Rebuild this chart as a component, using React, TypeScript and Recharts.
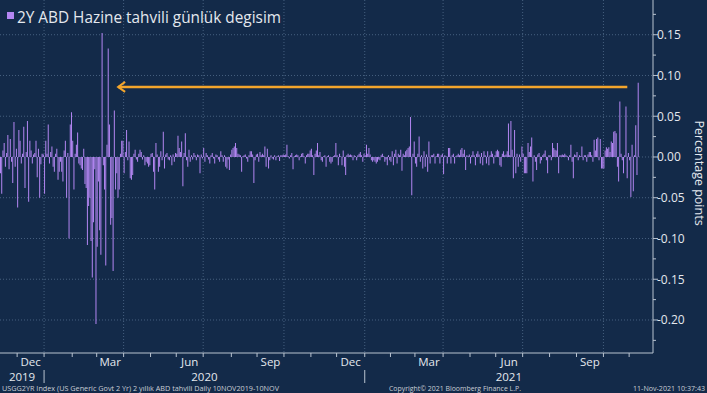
import React from 'react';
import { ComposedChart, Bar, XAxis, YAxis, CartesianGrid, ReferenceLine, ReferenceDot } from 'recharts';

// Daily change of US 2Y yield, percentage points (one value per weekday)
const nov2019 = [-0.02, -0.045, 0.008, 0.017, -0.012, 0.005, 0.027, -0.015, 0.022, -0.006, -0.032, 0.043, -0.012, 0.01];
const dec2019 = [-0.062, 0.033, 0.02, -0.008, 0.004, 0.037, -0.038, 0.006, 0.044, -0.055, 0.02, 0.008, -0.008, 0.003, 0.005, 0.02, -0.025, 0.01, -0.05, -0.009, 0.004, 0.003];
const jan2020 = [-0.045, 0.02, 0.004, 0.04, -0.008, 0.006, 0.013, -0.012, -0.018, 0.004, 0.01, -0.028, -0.018, -0.006, -0.018, -0.03, 0.008, 0.02, -0.05, 0.005, -0.1, 0.04, 0.055];
const feb2020 = [0.02, -0.04, 0.004, 0.015, 0.03, -0.008, -0.01, -0.014, -0.016, 0.01, -0.033, -0.038, -0.108, -0.06, -0.05, -0.103, -0.148, -0.08, -0.015, -0.205];
const mar2020 = [-0.11, -0.03, -0.09, -0.12, 0.152, -0.01, -0.04, -0.133, 0.015, 0.133, 0.04, -0.083, -0.075, -0.14, 0.057, -0.04, -0.02, -0.05, -0.04, 0.004, 0.02, 0.02];
const apr2020 = [-0.02, 0.006, 0.033, -0.004, 0.019, -0.026, -0.028, -0.022, 0.004, 0.009, -0.003, -0.006, 0.004, 0.009, 0.006, -0.003, 0.002, -0.01, -0.006, -0.008, -0.012, -0.01];
const may2020 = [0.004, 0.005, -0.018, -0.04, 0.017, 0.003, -0.018, -0.012, 0.007, -0.004, 0.031, -0.014, 0.003, 0.005, -0.003, -0.004, 0.002, -0.01, 0.003, -0.006, 0.005];
const jun2020 = [0.004, 0.026, 0.011, 0.006, 0.019, -0.036, 0.005, 0.029, -0.004, -0.012, 0.009, -0.006, 0.002, -0.003, 0.005, 0.002, -0.004, 0.003, 0.002, -0.02, 0.003, -0.002];
const jul2020 = [0.011, -0.006, 0.005, 0.002, -0.003, -0.008, 0.002, 0.005, -0.002, -0.008, 0.003, 0.002, -0.003, -0.006, 0.007, 0.002, -0.006, 0.002, -0.012, -0.014, -0.003, -0.016, 0.003];
const aug2020 = [0.009, 0.011, 0.013, 0.017, 0.011, 0.004, 0.003, 0.002, -0.018, 0.001, 0.002, 0.003, -0.002, -0.006, 0.002, 0.007, 0.007, 0.003, -0.032, -0.004, 0.003];
const sep2020 = [0.004, -0.006, 0.006, 0.002, 0.004, 0.002, 0.013, -0.012, 0.01, -0.014, -0.004, 0.002, -0.002, -0.003, 0.002, -0.004, 0.001, 0.002, -0.005, 0.002, 0.002, 0.003];
const oct2020 = [0.002, 0.003, 0.015, 0.001, -0.002, 0.002, 0.005, -0.015, 0.001, 0.002, 0.003, 0.002, -0.004, 0.001, 0.004, 0.005, 0.001, -0.008, 0.002, 0.004, 0.004, 0.008];
const nov2020 = [0.01, 0.002, -0.022, 0.004, 0.008, 0.017, 0.002, 0.006, -0.004, -0.006, 0.001, 0.002, -0.012, 0.001, 0.002, -0.006, -0.008, -0.006, 0.001, 0.002, 0.017];
const dec2020 = [0.002, -0.01, 0.004, 0.001, -0.01, 0.008, -0.012, -0.022, 0.002, 0.004, 0.002, 0.003, 0.002, -0.004, 0.002, 0.001, -0.004, 0.002, 0.004, 0.006, 0.002, -0.006, 0.004];
const jan2021 = [0.002, 0.015, 0.004, 0.011, 0.003, -0.004, -0.006, -0.004, -0.006, -0.008, -0.006, -0.003, -0.004, 0.002, 0.004, 0.001, -0.006, -0.003, -0.01, 0.002, -0.004];
const feb2021 = [-0.006, 0.007, -0.01, 0.004, 0.009, -0.008, 0.004, 0.002, 0.009, -0.017, 0.004, 0.002, 0.007, 0.009, 0.011, 0.013, 0.049, -0.047, 0.004, 0.019];
const mar2021 = [-0.008, -0.012, 0.004, 0.025, -0.006, 0.002, -0.014, 0.007, -0.012, 0.003, -0.018, 0.019, -0.008, 0.002, 0.002, 0.004, -0.008, 0.001, 0.004, 0.004, -0.008, 0.002, 0.004];
const apr2021 = [-0.021, 0.002, 0.001, -0.008, 0.011, 0.011, -0.008, 0.002, 0.004, -0.008, 0.001, 0.002, 0.004, 0.002, 0.009, 0.011, 0.004, 0.009, -0.016, 0.002, 0.001, 0.003];
const may2021 = [-0.008, 0.002, 0.007, 0.002, -0.01, 0.004, 0.007, 0.003, -0.008, 0.005, -0.01, 0.007, 0.002, -0.008, 0.007, -0.01, 0.002, 0.007, 0.004, -0.008, 0.002];
const jun2021 = [0.007, 0.009, 0.007, -0.01, -0.012, 0.004, 0.007, 0.002, 0.003, 0.007, 0.041, 0.002, 0.044, 0.009, -0.026, 0.033, -0.02, 0.004, -0.012, 0.003, -0.006, 0.013];
const jul2021 = [0.004, -0.02, -0.02, -0.02, 0.017, 0.006, 0.013, 0.024, -0.03, 0.002, -0.006, -0.016, 0.003, 0.005, -0.008, -0.004, 0.002, 0.004, 0.008, -0.004, -0.02, 0.002];
const aug2021 = [0.002, -0.004, 0.017, 0.011, 0.009, 0.008, 0.017, -0.02, 0.002, 0.002, 0.003, 0.002, 0.004, 0.002, 0.001, -0.004, 0.002, 0.015, -0.006, -0.026, 0.003, 0.002];
const sep2021 = [0.006, -0.004, 0.002, 0.001, 0.013, -0.004, 0.002, 0.002, -0.006, 0.003, 0.006, 0.006, 0.002, -0.006, 0.021, 0.008, 0.022, 0.024, -0.004, 0.022, -0.014, -0.014];
const oct2021 = [-0.014, 0.008, 0.012, 0.01, 0.012, 0.006, 0.019, 0.017, 0.031, 0.032, 0.029, -0.012, -0.03, 0.068, 0.004, -0.004, -0.02, 0.002, 0.062, -0.026, 0.005];
const nov2021 = [-0.004, -0.049, 0.015, -0.042, 0.002, 0.039, -0.022, 0.091];

const monthSeries = [
  { year: 2019, month: 10, firstDay: 12, values: nov2019 },
  { year: 2019, month: 11, firstDay: 1, values: dec2019 },
  { year: 2020, month: 0, firstDay: 1, values: jan2020 },
  { year: 2020, month: 1, firstDay: 1, values: feb2020 },
  { year: 2020, month: 2, firstDay: 1, values: mar2020 },
  { year: 2020, month: 3, firstDay: 1, values: apr2020 },
  { year: 2020, month: 4, firstDay: 1, values: may2020 },
  { year: 2020, month: 5, firstDay: 1, values: jun2020 },
  { year: 2020, month: 6, firstDay: 1, values: jul2020 },
  { year: 2020, month: 7, firstDay: 1, values: aug2020 },
  { year: 2020, month: 8, firstDay: 1, values: sep2020 },
  { year: 2020, month: 9, firstDay: 1, values: oct2020 },
  { year: 2020, month: 10, firstDay: 1, values: nov2020 },
  { year: 2020, month: 11, firstDay: 1, values: dec2020 },
  { year: 2021, month: 0, firstDay: 1, values: jan2021 },
  { year: 2021, month: 1, firstDay: 1, values: feb2021 },
  { year: 2021, month: 2, firstDay: 1, values: mar2021 },
  { year: 2021, month: 3, firstDay: 1, values: apr2021 },
  { year: 2021, month: 4, firstDay: 1, values: may2021 },
  { year: 2021, month: 5, firstDay: 1, values: jun2021 },
  { year: 2021, month: 6, firstDay: 1, values: jul2021 },
  { year: 2021, month: 7, firstDay: 1, values: aug2021 },
  { year: 2021, month: 8, firstDay: 1, values: sep2021 },
  { year: 2021, month: 9, firstDay: 1, values: oct2021 },
  { year: 2021, month: 10, firstDay: 1, values: nov2021 },
];

const monthNames = ['Jan', 'Feb', 'Mar', 'Apr', 'May', 'Jun', 'Jul', 'Aug', 'Sep', 'Oct', 'Nov', 'Dec'];
const labelledMonths = [11, 2, 5, 8];
const quarterMonths = [0, 3, 6, 9];
const years = [2019, 2020, 2021];
const yTicks = [-0.225, -0.2, -0.175, -0.15, -0.125, -0.1, -0.075, -0.05, -0.025, 0, 0.025, 0.05, 0.075, 0.1, 0.125, 0.15, 0.175];
const yLabelTicks = [-0.2, -0.15, -0.1, -0.05, 0, 0.05, 0.1, 0.15];
const arrowValue = 0.086;
const arrowFrom = '2020-03-25';
const arrowTo = '2021-10-28';

const title = '2Y ABD Hazine tahvili günlük degisim';
const yTitle = 'Percentage points';
const footLeft = 'USGG2YR Index (US Generic Govt 2 Yr) 2 yıllık ABD tahvili  Daily 10NOV2019-10NOV';
const footMid = 'Copyright© 2021 Bloomberg Finance L.P.';
const footRight = '11-Nov-2021 10:37:43';

// ---- build table ----
type Row = { i: number; date: string; v: number };
const data: Row[] = [];
const monthRanges: { year: number; month: number; start: number; end: number }[] = [];
for (const s of monthSeries) {
  const start = data.length;
  let day = s.firstDay;
  let k = 0;
  while (k < s.values.length) {
    const dt = new Date(Date.UTC(s.year, s.month, day));
    const wd = dt.getUTCDay();
    if (wd !== 0 && wd !== 6) {
      data.push({ i: data.length, date: dt.toISOString().slice(0, 10), v: s.values[k] });
      k++;
    }
    day++;
  }
  monthRanges.push({ year: s.year, month: s.month, start, end: data.length - 1 });
}

const X_MIN = -0.5;
const X_MAX = 533;
const Y_MIN = -0.2405;
const Y_MAX = 0.1926;

type Meta = { kind: string; label?: string };
const tickMeta = new Map<number, Meta[]>();
const keyOf = (v: number) => Math.round(v * 1000) / 1000;
const addTick = (v: number, m: Meta) => {
  const k = keyOf(v);
  if (!tickMeta.has(k)) tickMeta.set(k, []);
  tickMeta.get(k)!.push(m);
};
monthRanges.forEach((r, idx) => {
  const lo = Math.max(r.start - 0.5, X_MIN);
  const hi = Math.min(r.end + 0.5, X_MAX);
  if (idx > 0) addTick(r.start - 0.5, { kind: 'monthTick' });
  if (labelledMonths.includes(r.month)) addTick((lo + hi) / 2, { kind: 'month', label: monthNames[r.month] });
});
years.forEach((y, yi) => {
  const rs = monthRanges.filter((r) => r.year === y);
  const lo = yi === 0 ? X_MIN : rs[0].start - 0.5;
  const hi = yi === years.length - 1 ? X_MAX : rs[rs.length - 1].end + 0.5;
  addTick((lo + hi) / 2, { kind: 'year', label: String(y) });
  if (yi > 0) addTick(rs[0].start - 0.5, { kind: 'yearSep' });
});
const xTicks = Array.from(tickMeta.keys()).sort((a, b) => a - b);
const quarterLines = monthRanges.filter((r, idx) => idx > 0 && quarterMonths.includes(r.month)).map((r) => r.start - 0.5);

const idxOf = (d: string) => data.findIndex((r) => r.date >= d);
const arrowX0 = idxOf(arrowFrom);
const arrowX1 = idxOf(arrowTo);

// ---- styles ----
const BG = '#132a49';
const GRID = '#46607f';
const AXIS = '#b9c3d0';
const TXT = '#e4e8ee';
const BAR = '#b386f2';
const ORANGE = '#f3a52c';
const FONT = '"Open Sans", "DejaVu Sans", sans-serif';

const XTick = (props: any) => {
  const { x, y, payload } = props;
  const items = tickMeta.get(keyOf(payload.value)) || [];
  return (
    <g>
      {items.map((it, k) => {
        if (it.kind === 'monthTick') return <line key={k} x1={x} x2={x} y1={y} y2={y + 4} stroke={AXIS} strokeWidth={1} />;
        if (it.kind === 'yearSep') return <line key={k} x1={x} x2={x} y1={y + 17} y2={y + 30} stroke={AXIS} strokeWidth={1} />;
        if (it.kind === 'month')
          return (
            <text key={k} x={x} y={y + 13} textAnchor="middle" fill={TXT} fontSize={11.5} fontFamily={FONT}>
              {it.label}
            </text>
          );
        return (
          <text key={k} x={x} y={y + 28} textAnchor="middle" fill={TXT} fontSize={11.5} fontFamily={FONT}>
            {it.label}
          </text>
        );
      })}
    </g>
  );
};

const YTick = (props: any) => {
  const { x, y, payload } = props;
  const v = payload.value as number;
  const major = yLabelTicks.some((t) => Math.abs(t - v) < 1e-9);
  return (
    <g>
      <line x1={x} x2={x + (major ? 5 : 3)} y1={y} y2={y} stroke={AXIS} strokeWidth={1} />
      {major && (
        <text x={x + 4} y={y} dy="0.36em" textAnchor="start" fill={TXT} fontSize={12} fontFamily={FONT}>
          {v.toFixed(2)}
        </text>
      )}
    </g>
  );
};

const ArrowHead = (props: any) => {
  const { cx, cy } = props;
  if (cx == null || cy == null) return <g />;
  return <path d={`M${cx + 7},${cy - 5} L${cx},${cy} L${cx + 7},${cy + 5}`} stroke={ORANGE} strokeWidth={2} fill="none" />;
};

export default function App() {
  return (
    <div style={{ position: 'absolute', left: 0, top: 0, width: 707, height: 393, background: BG, overflow: 'hidden' }}>
      <ComposedChart width={707} height={393} data={data} margin={{ top: 0, right: 0, bottom: 0, left: 0 }}>
        <CartesianGrid stroke={GRID} strokeDasharray="1 2" horizontalValues={yLabelTicks} verticalValues={quarterLines} />
        <XAxis
          type="number"
          dataKey="i"
          domain={[X_MIN, X_MAX]}
          allowDataOverflow
          ticks={xTicks}
          interval={0}
          tick={<XTick />}
          tickLine={false}
          tickSize={0}
          tickMargin={0}
          height={40}
          axisLine={{ stroke: AXIS }}
        />
        <YAxis
          orientation="right"
          type="number"
          domain={[Y_MIN, Y_MAX]}
          allowDataOverflow
          ticks={yTicks}
          interval={0}
          tick={<YTick />}
          tickLine={false}
          tickSize={0}
          tickMargin={0}
          width={54}
          axisLine={{ stroke: AXIS }}
        />
        <Bar dataKey="v" fill={BAR} barSize={1} isAnimationActive={false} />
        <ReferenceLine
          segment={[
            { x: arrowX0, y: arrowValue },
            { x: arrowX1, y: arrowValue },
          ]}
          stroke={ORANGE}
          strokeWidth={2.5}
        />
        <ReferenceDot x={arrowX0} y={arrowValue} r={5} shape={<ArrowHead />} />
      </ComposedChart>
      <svg width={707} height={393} style={{ position: 'absolute', left: 0, top: 0, pointerEvents: 'none' }}>
        <rect x={7} y={12} width={7} height={7} fill={BAR} />
        <text x={17} y={23} fill={TXT} fontSize={15.5} fontFamily={FONT} textLength={264} lengthAdjust="spacingAndGlyphs">
          {title}
        </text>
        <text transform="translate(695,173) rotate(90)" textAnchor="middle" fill={TXT} fontSize={12.5} fontFamily={FONT}>
          {yTitle}
        </text>
        <text x={2} y={391} fill="#c9ced6" fontSize={7} fontFamily={FONT} textLength={277} lengthAdjust="spacingAndGlyphs">
          {footLeft}
        </text>
        <text x={389} y={391} fill="#c9ced6" fontSize={7} fontFamily={FONT} textLength={132} lengthAdjust="spacingAndGlyphs">
          {footMid}
        </text>
        <text x={633} y={391} fill="#c9ced6" fontSize={7} fontFamily={FONT} textLength={72} lengthAdjust="spacingAndGlyphs">
          {footRight}
        </text>
      </svg>
    </div>
  );
}
